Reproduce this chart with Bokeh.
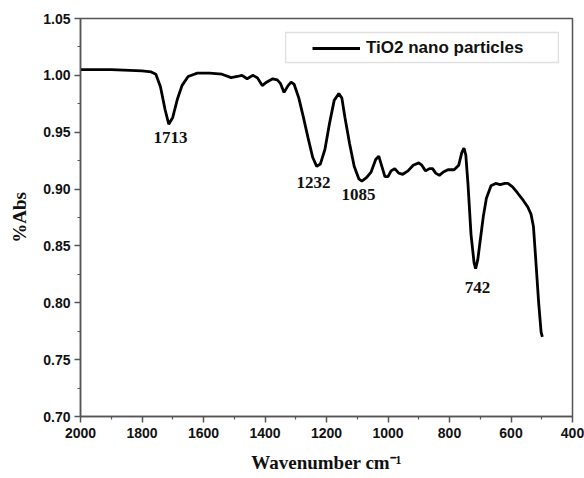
from bokeh.plotting import figure
from bokeh.models import (Range1d, FixedTicker, NumeralTickFormatter, Legend, LegendItem,
                          BoxAnnotation, ColumnDataSource)
from bokeh.core.properties import value
from bokeh.embed import file_html
from bokeh.resources import INLINE

# ---- data ----
wavenumber = [2000, 1900, 1800, 1770, 1755, 1740, 1725, 1713, 1700, 1685, 1670, 1650, 1620,
              1580, 1540, 1510, 1490, 1475, 1458, 1440, 1425, 1409, 1395, 1375, 1360, 1350,
              1338, 1325, 1315, 1305, 1290, 1275, 1260, 1245, 1232, 1220, 1205, 1190, 1175,
              1160, 1150, 1140, 1125, 1110, 1095, 1085, 1070, 1055, 1040, 1030, 1020, 1010,
              1000, 990, 978, 965, 952, 935, 918, 900, 890, 878, 865, 855, 845, 833, 820,
              805, 785, 770, 760, 753, 747, 740, 730, 720, 715, 708, 700, 690, 680, 665,
              650, 635, 620, 610, 595, 580, 560, 545, 535, 527, 520, 510, 502, 498]
absorbance = [1.005, 1.005, 1.004, 1.003, 1.001, 0.990, 0.970, 0.957, 0.963, 0.979, 0.991,
              0.999, 1.002, 1.002, 1.001, 0.998, 0.999, 1.000, 0.997, 1.000, 0.998, 0.991,
              0.994, 0.997, 0.996, 0.993, 0.985, 0.991, 0.994, 0.992, 0.980, 0.963, 0.945,
              0.928, 0.920, 0.922, 0.935, 0.958, 0.978, 0.984, 0.980, 0.963, 0.940, 0.920,
              0.909, 0.907, 0.910, 0.915, 0.926, 0.929, 0.920, 0.911, 0.911, 0.916, 0.918,
              0.914, 0.913, 0.916, 0.921, 0.923, 0.921, 0.916, 0.918, 0.918, 0.914, 0.912,
              0.915, 0.917, 0.917, 0.921, 0.932, 0.936, 0.930, 0.905, 0.860, 0.835, 0.830,
              0.838, 0.855, 0.876, 0.892, 0.903, 0.905, 0.904, 0.905, 0.905, 0.902, 0.897,
              0.890, 0.884, 0.878, 0.867, 0.840, 0.800, 0.774, 0.770]

peak_labels = ["1713", "1232", "1085", "742"]
peak_label_x = [1707, 1242, 1096, 709]
peak_label_y = [0.9453, 0.9058, 0.8952, 0.8134]

x_ticks = [2000, 1800, 1600, 1400, 1200, 1000, 800, 600, 400]
y_ticks = [0.70, 0.75, 0.80, 0.85, 0.90, 0.95, 1.00, 1.05]
series_name = "TiO2 nano particles"

p = figure(width=584, height=478, output_backend="svg", toolbar_location=None,
           x_range=Range1d(2000, 400), y_range=Range1d(0.70, 1.05),
           min_border_left=80, min_border_right=12, min_border_top=18, min_border_bottom=62)

p.xgrid.visible = False
p.ygrid.visible = False
p.outline_line_color = "#555555"
p.outline_line_width = 1.5
p.background_fill_color = "white"
p.border_fill_color = "white"

line = p.line(wavenumber, absorbance, line_color="black", line_width=2.8)

src = ColumnDataSource(dict(x=peak_label_x, y=peak_label_y, t=peak_labels))
p.text(x="x", y="y", text="t", source=src, text_align="center", text_baseline="middle",
       text_font=value("Liberation Serif"), text_font_style="bold", text_font_size="17px",
       text_color="#111111")

for ax, ticks in ((p.xaxis[0], x_ticks), (p.yaxis[0], y_ticks)):
    ax.ticker = FixedTicker(ticks=ticks, minor_ticks=[(a + b) / 2 for a, b in zip(ticks[:-1], ticks[1:])])
    ax.axis_line_color = "#555555"
    ax.axis_line_width = 1.5
    ax.major_tick_line_color = "#555555"
    ax.minor_tick_line_color = "#555555"
    ax.major_tick_line_width = 1.5
    ax.minor_tick_line_width = 1.2
    ax.major_tick_in = 0
    ax.major_tick_out = 6
    ax.minor_tick_in = 0
    ax.minor_tick_out = 3
    ax.major_label_text_font = "Liberation Sans"
    ax.major_label_text_font_style = "bold"
    ax.major_label_text_font_size = "14px"
    ax.major_label_text_color = "#111111"
    ax.axis_label_text_font = "Liberation Serif"
    ax.axis_label_text_font_style = "bold"
    ax.axis_label_text_font_size = "19px"
    ax.axis_label_text_color = "#111111"

p.yaxis[0].formatter = NumeralTickFormatter(format="0.00")
p.xaxis[0].axis_label = "Wavenumber cm\u207b\u00b9"
p.yaxis[0].axis_label = "%Abs"
p.xaxis[0].major_label_standoff = 5
p.xaxis[0].axis_label_standoff = 11
p.yaxis[0].major_label_standoff = 4
p.yaxis[0].axis_label_standoff = 10

# legend frame
p.add_layout(BoxAnnotation(left=1333, right=446, top=1.0377, bottom=1.0113,
                           fill_color="white", fill_alpha=1.0,
                           line_color="#999999", line_width=1.3))

legend = Legend(items=[LegendItem(label=series_name, renderers=[line])],
                location=(226, 352), padding=6, spacing=0, margin=0,
                glyph_width=48, glyph_height=20, label_standoff=6,
                border_line_alpha=0, background_fill_alpha=0,
                label_text_font="Liberation Sans", label_text_font_style="bold",
                label_text_font_size="17px", label_text_color="#111111")
p.add_layout(legend, "center")

open("out.html", "w").write(file_html(p, INLINE))
